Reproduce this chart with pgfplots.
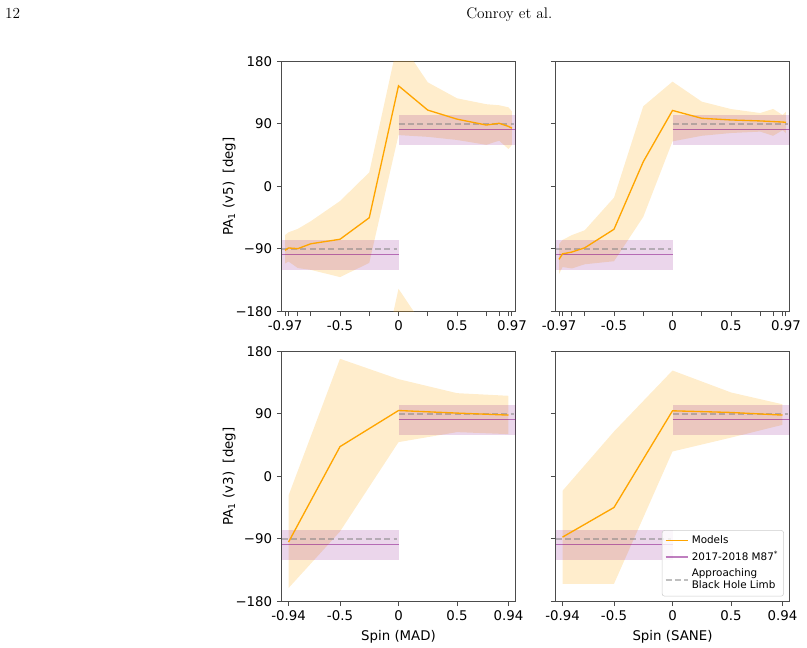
\documentclass[border=0pt]{standalone}
\usepackage{fontspec}
\usepackage{pgfplots}
\usepackage{pgfplotstable}
\pgfplotsset{compat=1.18}
\usepgfplotslibrary{fillbetween}

\newfontfamily\dejavu{DejaVu Sans}
\definecolor{mplorange}{HTML}{FFA500}
\definecolor{mplpurple}{HTML}{800080}
\definecolor{mplgray}{HTML}{808080}

% Position angle of the model ring: median and spread per spin
\pgfplotstableread{
spin   med    hi     lo
-0.97  -92.0  -70.0  -111.0
-0.94  -88.5  -66.0  -108.0
-0.86  -89.5  -61.0  -117.5
-0.75  -82.5  -50.0  -120.0
-0.50  -76.0  -21.0  -130.5
-0.25  -45.0   20.3  -110.0
 0.00  145.0  212.7    74.0
 0.25  110.0  150.0    71.5
 0.50   97.0  127.0    67.0
 0.75   88.5  118.5    60.0
 0.86   91.0  117.0    66.0
 0.94   86.5  114.0    54.0
 0.97   84.0  108.0    60.0
}\madfive

\pgfplotstableread{
spin   med    hi     lo
-0.97 -105.0  -83.0  -126.0
-0.94  -97.0  -77.0  -116.0
-0.86  -94.4  -70.0  -118.0
-0.75  -88.3  -63.0  -112.0
-0.50  -61.6  -16.0  -107.6
-0.25   35.6  115.5   -43.8
 0.00  109.5  151.0    65.0
 0.25   98.2  122.2    73.0
 0.50   95.8  111.5    77.0
 0.75   94.4  105.8    79.0
 0.86   93.5  111.7    73.0
 0.94   92.8  103.0    81.0
 0.97   92.4  107.8    77.0
}\sanefive

\pgfplotstableread{
spin   med    hi     lo
-0.94  -94.5  -27.4  -160.7
-0.50   43.0  169.5   -79.2
 0.00   95.0  140.2    49.5
 0.50   91.3  120.0    63.9
 0.94   88.4  116.2    61.0
}\madthree

\pgfplotstableread{
spin   med    hi     lo
-0.94  -87.3  -20.6  -154.5
-0.50  -44.6   64.8  -154.5
 0.00   94.6  152.6    36.0
 0.50   92.2  121.0    56.0
 0.94   88.4  104.0    74.4
}\sanethree

\pgfplotsset{
  panel/.style={
    scale only axis, width=175.5pt, height=187.5pt,
    anchor=south west,
    xmin=-1, xmax=1, ymin=-180, ymax=180,
    ytick={-180,-90,0,90,180},
    tick align=outside, xtick pos=lower, ytick pos=left,
    major tick length=3.5pt,
    axis line style={black!70, line width=0.75pt},
    major tick style={black!70, line width=0.75pt},
    tick label style={font=\dejavu\fontsize{10}{12}\selectfont, text=black},
    label style={font=\dejavu\fontsize{10}{12}\selectfont},
    ylabel shift=-7pt,
  },
  spinfive/.style={
    xtick={-0.97,-0.5,0,0.5,0.97},
    xticklabels={-0.97,-0.5,0,0.5,0.97},
    extra x ticks={-0.94,-0.86,-0.75,-0.25,0.25,0.75,0.86,0.94},
    extra x tick labels={},
  },
  spinthree/.style={
    xtick={-0.94,-0.5,0,0.5,0.94},
    xticklabels={-0.94,-0.5,0,0.5,0.94},
  },
  yleft/.style={yticklabels={−180,−90,0,90,180}},
  yright/.style={yticklabel=\empty},
}

% shared content of every panel: model spread, observed PA band, limb PA, model median
\newcommand{\panelcontent}[1]{%
  \addplot[name path=hi, draw=none, forget plot] table[x=spin, y=hi]{#1};
  \addplot[name path=lo, draw=none, forget plot] table[x=spin, y=lo]{#1};
  \addplot[fill=mplorange, fill opacity=0.2, draw=none, forget plot] fill between[of=hi and lo];
  \addplot[fill=mplpurple, fill opacity=0.16, draw=none, forget plot]
    coordinates {(-1,-120) (0,-120) (0,-76.5) (-1,-76.5)};
  \addplot[fill=mplpurple, fill opacity=0.16, draw=none, forget plot]
    coordinates {(0,60) (1,60) (1,103.5) (0,103.5)};
  \addplot[mplpurple, draw opacity=0.5, line width=0.85pt, forget plot]
    coordinates {(-1,-98) (0,-98)};
  \addplot[mplpurple, draw opacity=0.5, line width=0.85pt, forget plot]
    coordinates {(0,82) (1,82)};
  \addplot[mplgray, draw opacity=0.5, line width=1pt, dash pattern=on 4.7pt off 2.3pt, forget plot]
    coordinates {(-1,-90) (-0.01,-90)};
  \addplot[mplgray, draw opacity=0.5, line width=1pt, dash pattern=on 4.7pt off 2.3pt, forget plot]
    coordinates {(0,90) (0.99,90)};
  \addplot[mplorange, line width=1pt, forget plot] table[x=spin, y=med]{#1};
}

\begin{document}
\begin{tikzpicture}
\path (0,0) rectangle (605.25pt,483.75pt);

% running head
\node[anchor=base west, inner sep=0pt, font=\fontsize{11.5}{13}\selectfont] at (3.6pt,469.6pt) {12};
\node[anchor=base west, inner sep=0pt, font=\fontsize{11.5}{13}\selectfont] at (349.5pt,469.6pt) {Conroy et al.};

% MAD, v5
\begin{axis}[panel, spinfive, yleft, at={(211.125pt,250.125pt)},
  ylabel={PA\textsubscript{1} (v5)\ \ [deg]}]
  \panelcontent{\madfive}
  % part of the spread beyond +180 deg, wrapped to the bottom
  \addplot[fill=mplorange, fill opacity=0.2, draw=none, forget plot]
    coordinates {(-0.25,-339.7) (0,-147.3) (0.25,-210.0)};
\end{axis}

% SANE, v5
\begin{axis}[panel, spinfive, yright, at={(416.625pt,250.125pt)}]
  \panelcontent{\sanefive}
\end{axis}

% MAD, v3
\begin{axis}[panel, spinthree, yleft, at={(211.125pt,32.625pt)},
  ylabel={PA\textsubscript{1} (v3)\ \ [deg]}, xlabel={Spin (MAD)}]
  \panelcontent{\madthree}
\end{axis}

% SANE, v3
\begin{axis}[panel, spinthree, yright, at={(416.625pt,32.625pt)}, xlabel={Spin (SANE)},
  legend cell align=left,
  legend style={at={(rel axis cs:0.976,0.02)}, anchor=south east,
    font=\dejavu\fontsize{7.8}{9.2}\selectfont,
    draw=black!20, rounded corners=2pt, fill=white, fill opacity=0.8,
    text opacity=1, draw opacity=1, cells={align=left},
    inner sep=2pt, row sep=0.5pt}]
  \panelcontent{\sanethree}
  \addlegendimage{draw=mplorange, line width=1.2pt}
  \addlegendentry{Models}
  \addlegendimage{draw=mplpurple, draw opacity=0.5, line width=1.2pt}
  \addlegendentry{2017-2018 M87\textsuperscript{*}}
  \addlegendimage{draw=mplgray, draw opacity=0.5, line width=1.2pt, dash pattern=on 4.7pt off 2.3pt}
  \addlegendentry{Approaching\\Black Hole Limb}
\end{axis}
\end{tikzpicture}
\end{document}
